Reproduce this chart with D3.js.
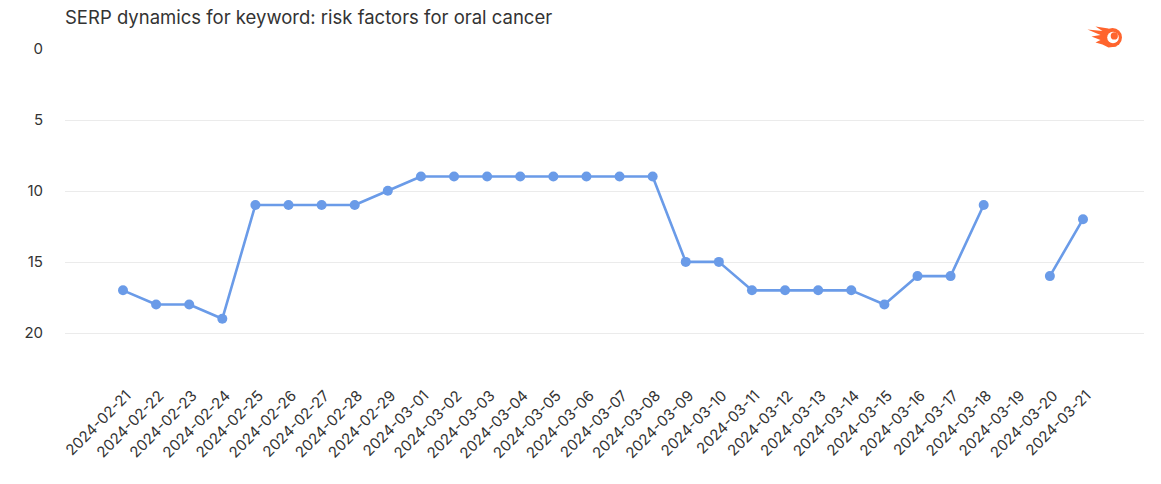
<!DOCTYPE html>
<html><head><meta charset="utf-8">
<script src="https://cdn.jsdelivr.net/npm/d3@7"></script>
<style>body{margin:0;background:#fff;font-family:Inter,"Noto Sans",sans-serif;}</style>
</head><body><svg id="c" width="1161" height="484"></svg>
<script>
const dates = ["2024-02-21","2024-02-22","2024-02-23","2024-02-24","2024-02-25","2024-02-26","2024-02-27","2024-02-28","2024-02-29","2024-03-01","2024-03-02","2024-03-03","2024-03-04","2024-03-05","2024-03-06","2024-03-07","2024-03-08","2024-03-09","2024-03-10","2024-03-11","2024-03-12","2024-03-13","2024-03-14","2024-03-15","2024-03-16","2024-03-17","2024-03-18","2024-03-19","2024-03-20","2024-03-21"];
const positions = [17,18,18,19,11,11,11,11,10,9,9,9,9,9,9,9,9,15,15,17,17,17,17,18,16,16,11,null,16,12];
const yTicks = [0,5,10,15,20];
const title = "SERP dynamics for keyword: risk factors for oral cancer";

const svg = d3.select("#c");
const x = d3.scalePoint().domain(dates).range([123,1083]);
const y = d3.scaleLinear().domain([0,20]).range([48.5,333]);

// grid
svg.append("g").selectAll("line").data(yTicks.filter(d=>d!==0)).join("line")
  .attr("x1",65).attr("x2",1144).attr("y1",d=>Math.round(y(d))+0.5).attr("y2",d=>Math.round(y(d))+0.5)
  .attr("stroke","#ebebeb").attr("stroke-width",1);

// y labels
const yAxis = d3.axisLeft(y).tickValues(yTicks).tickSize(0).tickPadding(0);
const gy = svg.append("g").attr("transform","translate(43,0)").call(yAxis);
gy.select(".domain").remove();
gy.selectAll("text").attr("fill","#333").style("font-size","15px").style("font-family","Inter");

// x labels
const xAxis = d3.axisBottom(x).tickSize(0).tickPadding(0);
const gx = svg.append("g").call(xAxis);
gx.select(".domain").remove();
gx.selectAll(".tick").attr("transform",d=>`translate(${x(d)+5},393)`);
gx.selectAll(".tick text").attr("fill","#333").style("font-size","15px").style("font-family","Inter")
  .attr("text-anchor","end").attr("y",0).attr("dy","0.35em")
  .attr("transform","rotate(-45)");

// line
const pts = dates.map((d,i)=>({d,v:positions[i]}));
const line = d3.line().defined(p=>p.v!==null).x(p=>x(p.d)).y(p=>y(p.v));
svg.append("path").datum(pts).attr("d",line).attr("fill","none")
  .attr("stroke","#6a9be8").attr("stroke-width",2.6).attr("stroke-linejoin","round");
svg.append("g").selectAll("circle").data(pts.filter(p=>p.v!==null)).join("circle")
  .attr("cx",p=>x(p.d)).attr("cy",p=>y(p.v)).attr("r",5).attr("fill","#6a9be8");

// title
svg.append("text").attr("x",65).attr("y",24).attr("fill","#333")
  .style("font-size","18.5px").style("font-family","Inter").text(title);

// logo
const lg = svg.append("g").attr("transform","translate(1112.5,37.5)");
lg.append("path").attr("d","M-25,-8 L-10,-6.5 L-17,-11 L-4,-9 L4,9 L-4,10 L-10,7 L-17,5 L-12,2.5 L-21,-1 L-12,-2.5 Z").attr("fill","#ff642d");
lg.append("circle").attr("cx",0).attr("cy",0).attr("r",9.5).attr("fill","#ff642d");
lg.append("circle").attr("cx",0.5).attr("cy",0).attr("r",5.8).attr("fill","#fff");
lg.append("circle").attr("cx",1.8).attr("cy",-1.6).attr("r",3.6).attr("fill","#ff642d");
</script></body></html>
